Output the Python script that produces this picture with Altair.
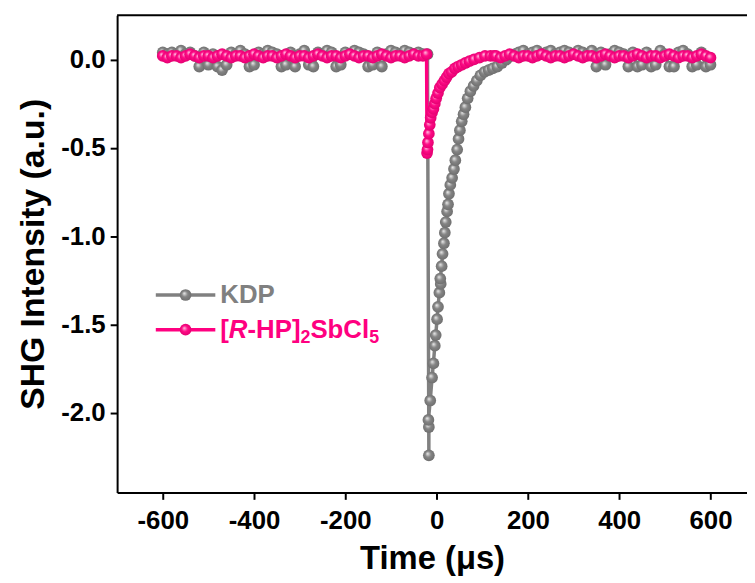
import altair as alt
import pandas as pd

# ---------------- data ----------------
kdp_time = [
    -600, -590, -580, -570, -560, -550, -540, -530, -520, -510,
    -500, -490, -480, -470, -460, -450, -440, -430, -420, -410,
    -400, -390, -380, -370, -360, -350, -340, -330, -320, -310,
    -300, -290, -280, -270, -260, -250, -240, -230, -220, -210,
    -200, -190, -180, -170, -160, -150, -140, -130, -120, -110,
    -100, -90, -80, -70, -60, -50, -40, -30, -20,
    -17, -17, -18, -14, -10, -7, -4, -2, 1, 3,
    6, 9, 8, 11, 13, 16, 18, 20, 23, 25,
    27, 30, 34, 38, 41, 45, 48, 51, 55, 59,
    63, 68, 74, 81, 88, 96, 105, 114, 123, 133,
    143, 153, 163, 172,
    180, 190, 200, 210, 220, 230, 240, 250, 260, 270,
    280, 290, 300, 310, 320, 330, 340, 350, 360, 370,
    380, 390, 400, 410, 420, 430, 440, 450, 460, 470,
    480, 490, 500, 510, 520, 530, 540, 550, 560, 570,
    580, 590, 600,
]
kdp_val = [
    0.04, 0.03, 0.04, 0.03, 0.05, 0.03, 0.04, 0.02, -0.04, 0.04,
    -0.03, 0.03, -0.04, -0.06, -0.03, 0.04, 0.03, 0.05, 0.03, -0.04,
    -0.03, 0.04, 0.03, 0.05, 0.04, 0.03, -0.04, -0.03, 0.04, -0.04,
    0.03, 0.05, -0.03, -0.04, 0.04, 0.03, 0.05, 0.04, -0.04, -0.03,
    0.04, 0.03, 0.05, 0.04, 0.03, -0.04, -0.03, 0.04, -0.04, 0.03,
    0.05, 0.04, 0.03, 0.05, 0.04, 0.03, 0.04, 0.03, 0.03,
    -2.24, -2.08, -2.04, -1.93, -1.80, -1.72, -1.62, -1.56, -1.47, -1.40,
    -1.32, -1.27, -1.24, -1.17, -1.10, -1.04, -0.98, -0.92, -0.86, -0.82,
    -0.76, -0.71, -0.67, -0.62, -0.57, -0.51, -0.45, -0.40, -0.35, -0.31,
    -0.27, -0.22, -0.18, -0.15, -0.12, -0.09, -0.07, -0.06, -0.05, -0.04,
    -0.02, 0.00, 0.02, 0.03,
    0.04, 0.05, 0.03, 0.04, 0.05, 0.03, 0.04, 0.05, 0.03, 0.04,
    0.05, 0.04, 0.03, 0.05, 0.04, 0.03, 0.05, -0.04, 0.04, -0.03,
    0.03, 0.05, 0.04, 0.03, -0.04, 0.04, -0.04, -0.03, 0.04, -0.04,
    -0.03, 0.05, 0.03, -0.04, -0.04, 0.04, 0.05, 0.03, -0.04, -0.03,
    0.04, -0.04, -0.03,
]
rhp_time = [
    -600, -590, -580, -570, -560, -550, -540, -530, -520, -510,
    -500, -490, -480, -470, -460, -450, -440, -430, -420, -410,
    -400, -390, -380, -370, -360, -350, -340, -330, -320, -310,
    -300, -290, -280, -270, -260, -250, -240, -230, -220, -210,
    -200, -190, -180, -170, -160, -150, -140, -130, -120, -110,
    -100, -90, -80, -70, -60, -50, -40, -30, -22,
    -21, -20, -19, -17, -15, -13, -10, -7, -4, -1,
    3, 7, 12, 17, 22, 27, 33, 40, 47, 55,
    63, 72, 82, 94, 106, 118, 126,
    130, 140, 150, 160, 170, 180, 190, 200, 210, 220,
    230, 240, 250, 260, 270, 280, 290, 300, 310, 320,
    330, 340, 350, 360, 370, 380, 390, 400, 410, 420,
    430, 440, 450, 460, 470, 480, 490, 500, 510, 520,
    530, 540, 550, 560, 570, 580, 590, 600,
]
rhp_val = [
    0.02, 0.01, 0.02, 0.02, 0.01, 0.02, 0.03, 0.02, 0.01, 0.02,
    0.02, 0.01, 0.02, 0.03, 0.02, 0.01, 0.02, 0.02, 0.01, 0.02,
    0.03, 0.02, 0.01, 0.02, 0.02, 0.01, 0.02, 0.03, 0.02, 0.01,
    0.02, 0.02, 0.01, 0.02, 0.03, 0.02, 0.01, 0.02, 0.02, 0.01,
    0.02, 0.03, 0.02, 0.01, 0.02, 0.02, 0.01, 0.02, 0.03, 0.02,
    0.01, 0.02, 0.02, 0.01, 0.02, 0.03, 0.02, 0.02, 0.03,
    -0.53, -0.51, -0.47, -0.42, -0.37, -0.33, -0.30, -0.28, -0.25, -0.22,
    -0.19, -0.16, -0.14, -0.12, -0.10, -0.08, -0.07, -0.05, -0.04, -0.03,
    -0.02, -0.01, 0.00, 0.01, 0.02, 0.02, 0.02,
    0.02, 0.01, 0.02, 0.03, 0.02, 0.01, 0.02, 0.02, 0.01, 0.02,
    0.03, 0.02, 0.01, 0.02, 0.02, 0.01, 0.02, 0.03, 0.02, 0.01,
    0.02, 0.02, 0.01, 0.02, 0.03, 0.02, 0.01, 0.02, 0.02, 0.01,
    0.02, 0.03, 0.02, 0.01, 0.02, 0.02, 0.01, 0.02, 0.03, 0.02,
    0.01, 0.02, 0.02, 0.01, 0.02, 0.03, 0.02, 0.01,
]
series_names = ["KDP", "[R-HP]2SbCl5"]
series_colors = ["#808080", "#ff0080"]
x_ticks = [-600, -400, -200, 0, 200, 400, 600]
y_ticks = [0.0, -0.5, -1.0, -1.5, -2.0]

rows = []
for i, (t, v) in enumerate(zip(kdp_time, kdp_val)):
    rows.append({"t": t, "v": v, "s": series_names[0], "idx": i})
for i, (t, v) in enumerate(zip(rhp_time, rhp_val)):
    rows.append({"t": t, "v": v, "s": series_names[1], "idx": i})
df = pd.DataFrame(rows)

# ---------------- style ----------------
W, H = 635, 481
FONT = "Liberation Sans"
NARROW = "Liberation Sans Narrow, Arial Narrow, Liberation Sans"
LFS = 26  # legend font size
PSIZE = 140


def ball(hi, mid, lo):
    return alt.Gradient(
        gradient="radial",
        stops=[
            alt.GradientStop(offset=0, color=hi),
            alt.GradientStop(offset=0.45, color=mid),
            alt.GradientStop(offset=1, color=lo),
        ],
        x1=0.38, y1=0.35, r1=0, x2=0.5, y2=0.5, r2=0.55,
    )


balls = [ball("#eeeeee", "#858585", "#6c6c6c"), ball("#ffc8e4", "#ff0a86", "#e0006f")]

xenc = alt.X(
    "t:Q",
    scale=alt.Scale(domain=[-700, 680], nice=False, zero=False),
    axis=alt.Axis(
        values=x_ticks,
        labelExpr="datum.value < 0 ? '-' + format(-datum.value, 'd') : format(datum.value, 'd')",
        title="Time (μs)",
        titlePadding=10,
        labelPadding=8,
    ),
)
yenc = alt.Y(
    "v:Q",
    scale=alt.Scale(domain=[-2.45, 0.25], nice=False, zero=False),
    axis=alt.Axis(
        values=y_ticks,
        labelExpr="datum.value < 0 ? '-' + format(-datum.value, '.1f') : format(datum.value, '.1f')",
        title="SHG Intensity (a.u.)",
        titlePadding=10,
        labelPadding=5,
    ),
)

base = alt.Chart(df)
layers = []
for name, col, bl in zip(series_names, series_colors, balls):
    sub = base.transform_filter(alt.datum.s == name)
    layers.append(
        sub.mark_line(color=col, strokeWidth=3.5).encode(x=xenc, y=yenc, order=alt.Order("idx:Q"))
    )
    layers.append(sub.mark_circle(size=PSIZE, fill=bl, opacity=1).encode(x=xenc, y=yenc))

one = alt.Data(values=[{"k": 1}])

# top frame line
layers.append(
    alt.Chart(one).mark_rule(color="black", strokeWidth=2).encode(
        x=alt.value(0), x2=alt.value(W), y=alt.value(0)
    )
)

# manual legend
leg_rows = [282, 317]
for yy, col, bl in zip(leg_rows, series_colors, balls):
    layers.append(
        alt.Chart(one).mark_rule(color=col, strokeWidth=3.5).encode(
            x=alt.value(39), x2=alt.value(99), y=alt.value(yy)
        )
    )
    layers.append(
        alt.Chart(one).mark_circle(size=PSIZE, fill=bl, opacity=1).encode(
            x=alt.value(69), y=alt.value(yy)
        )
    )

layers.append(
    alt.Chart(one).mark_text(
        text=series_names[0], font=FONT, fontSize=LFS, fontWeight="bold",
        color=series_colors[0], align="left", baseline="middle",
    ).encode(x=alt.value(104), y=alt.value(leg_rows[0]))
)

# "[R-HP]2SbCl5" with italic R and subscripts
SFS = 18
parts = [
    ("[", LFS, "normal", 0, 0.333),
    ("R", LFS, "italic", 0, 0.722),
    ("-HP]", LFS, "normal", 0, 2.055),
    ("2", SFS, "normal", 8, 0.556),
    ("SbCl", LFS, "normal", 0, 2.278),
    ("5", SFS, "normal", 8, 0.556),
]
xoff = 104
for txt, fs, style, dy, em in parts:
    layers.append(
        alt.Chart(one).mark_text(
            text=txt, font=FONT, fontSize=fs, fontWeight="bold", fontStyle=style,
            color=series_colors[1], align="left", baseline="middle", dy=dy,
        ).encode(x=alt.value(xoff), y=alt.value(leg_rows[1]))
    )
    xoff += em * fs

chart = (
    alt.layer(*layers)
    .properties(
        width=W,
        height=H,
        autosize=alt.AutoSizeParams(type="none"),
        padding={"left": 110, "top": 5, "right": 0, "bottom": 88},
    )
    .configure_view(stroke=None)
    .configure_axis(
        grid=False,
        domainColor="black",
        domainWidth=2,
        tickColor="black",
        tickWidth=2,
        tickSize=7,
        labelFont=NARROW,
        labelFontSize=26,
        labelFontWeight="bold",
        labelColor="black",
        titleFont=FONT,
        titleFontWeight="bold",
        titleColor="black",
    )
    .configure_axisX(titleFontSize=33)
    .configure_axisY(titleFontSize=34)
)

chart.save("out.html", embed_options={"renderer": "svg", "actions": False})
